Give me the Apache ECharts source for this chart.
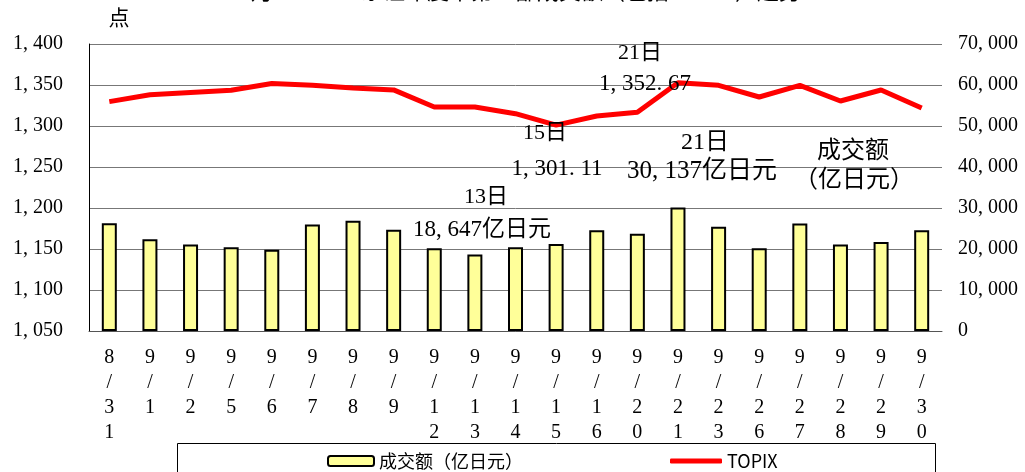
<!DOCTYPE html>
<html>
<head>
<meta charset="utf-8">
<title>成交额与TOPIX</title>
<script src="https://cdn.jsdelivr.net/npm/echarts@6/dist/echarts.min.js"></script>
<style>
  html, body { margin: 0; padding: 0; background: #fff; }
  #main { width: 1025px; height: 472px; }
</style>
</head>
<body>
<div id="main"></div>
<script>
// dates on the x axis
var dates = ['8/31', '9/1', '9/2', '9/5', '9/6', '9/7', '9/8', '9/9', '9/12', '9/13', '9/14',
             '9/15', '9/16', '9/20', '9/21', '9/23', '9/26', '9/27', '9/28', '9/29', '9/30'];
// 成交额 (亿日元), right axis
var volume = [26300, 22400, 21100, 20400, 19800, 26000, 26900, 24700, 20200, 18647, 20400,
              21200, 24600, 23700, 30137, 25400, 20200, 26200, 21100, 21700, 24600];
// TOPIX (点), left axis
var topix = [1329.7, 1338.2, 1341.0, 1343.5, 1351.9, 1349.6, 1346.3, 1344.0, 1323.2, 1323.2, 1315.0,
             1301.11, 1312.2, 1316.7, 1352.67, 1349.6, 1335.4, 1349.6, 1330.5, 1343.9, 1322.0];

var SERIF = 'Liberation Serif, "Noto Sans CJK SC", serif';
var SANS = '"Noto Sans CJK SC", sans-serif';

function fmt(v) {
    var s = String(v);
    if (s.length <= 3) return s;
    return s.slice(0, s.length - 3) + ', ' + s.slice(s.length - 3);
}

function note(text, x, y, size) {
    return {
        type: 'text', z: 100,
        style: {
            text: text, x: x, y: y,
            textAlign: 'center', textVerticalAlign: 'middle',
            font: (size || 21) + 'px ' + SERIF, fill: '#000'
        }
    };
}

var chart = echarts.init(document.getElementById('main'));

var option = {
    backgroundColor: '#fff',
    animation: false,
    grid: { left: 89, right: 83, top: 44, bottom: 141 },
    legend: [{
        left: 322, top: 447,
        itemWidth: 46, itemHeight: 10,
        textStyle: { fontFamily: SANS, fontSize: 18, color: '#000' },
        data: ['成交额（亿日元）']
    }, {
        left: 665, top: 447,
        itemWidth: 52, itemHeight: 5, icon: 'roundRect',
        textStyle: { fontFamily: SANS, fontSize: 18, color: '#000' },
        data: ['TOPIX']
    }],
    xAxis: {
        type: 'category',
        data: dates,
        axisLine: { lineStyle: { color: '#555', width: 1 } },
        axisTick: { show: false },
        axisLabel: {
            interval: 0, margin: 14,
            fontFamily: SERIF, fontSize: 20, lineHeight: 25, color: '#000',
            formatter: function (v) { return v.split('').join('\n'); }
        }
    },
    yAxis: [{
        type: 'value', min: 1050, max: 1400, interval: 50,
        axisLine: { show: true, lineStyle: { color: '#000' } },
        axisTick: { show: false },
        splitLine: { lineStyle: { color: '#777', width: 1 } },
        axisLabel: { margin: 26, fontFamily: SERIF, fontSize: 20, color: '#000', formatter: fmt }
    }, {
        type: 'value', min: 0, max: 70000, interval: 10000,
        axisLine: { show: false },
        axisTick: { show: false },
        splitLine: { show: false },
        axisLabel: { margin: 16, fontFamily: SERIF, fontSize: 20, color: '#000', formatter: fmt }
    }],
    series: [{
        name: '成交额（亿日元）',
        type: 'bar',
        yAxisIndex: 1,
        data: volume,
        barWidth: 15,
        itemStyle: { color: '#FFFF99', borderColor: '#000', borderWidth: 2 }
    }, {
        name: 'TOPIX',
        type: 'line',
        yAxisIndex: 0,
        data: topix,
        symbol: 'none',
        lineStyle: { color: '#FF0000', width: 5 },
        itemStyle: { color: '#FF0000' },
        z: 5
    }],
    graphic: [
        {
            type: 'text',
            style: {
                text: '9月　　　　东证年度中第一部成交额（包括　　　）趋势',
                x: 240, y: 4, textAlign: 'left', textVerticalAlign: 'bottom',
                font: '22px ' + SERIF, fill: '#000'
            }
        },
        note('点', 119, 19, 21),
        note('21日', 640, 53, 22),
        note('1, 352. 67', 645, 84, 23),
        note('15日', 545, 133, 22),
        note('1, 301. 11', 557, 169, 23),
        note('21日', 705, 143, 24),
        note('30, 137亿日元', 702, 171, 25),
        note('13日', 486, 197, 22),
        note('18, 647亿日元', 482, 230, 23),
        note('成交额', 853, 152, 24),
        note('（亿日元）', 854, 181, 24),
        {
            type: 'rect', z: 0,
            shape: { x: 177.5, y: 443.5, width: 758, height: 40 },
            style: { fill: 'none', stroke: '#000', lineWidth: 1 }
        }
    ]
};

chart.setOption(option);
</script>
</body>
</html>
